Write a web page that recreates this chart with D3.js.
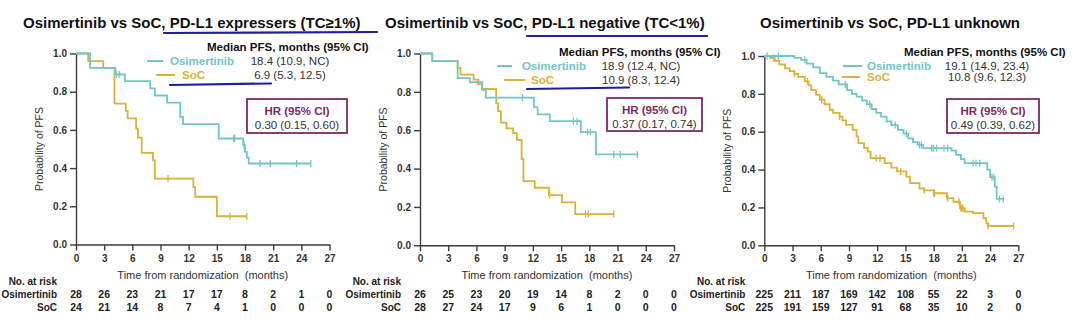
<!DOCTYPE html>
<html>
<head>
<meta charset="utf-8">
<script src="https://cdn.jsdelivr.net/npm/d3@7"></script>
<style>
  body { margin: 0; background: #fff; }
  svg { display: block; }
  text { font-family: "Liberation Sans", Arial, sans-serif; }
</style>
</head>
<body>
<svg id="chart" width="1080" height="333"></svg>
<script>
// chart values
const titles = [
  "Osimertinib vs SoC, PD-L1 expressers (TC\u22651%)",
  "Osimertinib vs SoC, PD-L1 negative (TC<1%)",
  "Osimertinib vs SoC, PD-L1 unknown"
]
const timeTicks = [0, 3, 6, 9, 12, 15, 18, 21, 24, 27]
const probTicks = [0, 0.2, 0.4, 0.6, 0.8, 1.0]

// Kaplan-Meier steps: [month, probability], last entry holds until the end time
const osiSteps1 = [[0,1],[1.5,0.925],[4.2,0.89],[5.2,0.855],[7.9,0.817],[8.4,0.78],[9.7,0.743],[11.1,0.668],[11.4,0.63],[15.2,0.555],[17.8,0.52],[18.0,0.485],[18.2,0.455],[18.4,0.424]]
const socSteps1 = [[0,1],[1.3,0.96],[2.9,0.925],[4.1,0.738],[5.3,0.70],[5.5,0.66],[6.4,0.607],[6.6,0.56],[7.0,0.48],[8.2,0.44],[8.4,0.345],[12.5,0.30],[12.7,0.25],[15.0,0.148]]
const osiSteps2 = [[0,1],[1.3,0.962],[4.0,0.872],[5.3,0.85],[6.6,0.81],[7.0,0.77],[12.1,0.72],[12.5,0.683],[13.8,0.647],[17.1,0.59],[18.7,0.474]]
const socSteps2 = [[0,1],[1.3,0.962],[4.0,0.925],[4.3,0.89],[5.7,0.864],[6.2,0.84],[6.6,0.815],[8.1,0.74],[8.3,0.70],[8.6,0.64],[9.2,0.61],[9.9,0.585],[10.3,0.55],[10.8,0.45],[11.0,0.335],[12.2,0.30],[13.7,0.262],[15.1,0.224],[16.5,0.163]]
const osiSteps3 = [[0,1],[3.2,0.99],[3.9,0.98],[4.5,0.96],[5.2,0.94],[5.9,0.91],[6.6,0.89],[7.3,0.87],[7.9,0.85],[8.8,0.82],[9.3,0.80],[9.8,0.785],[10.4,0.765],[10.9,0.745],[11.4,0.72],[11.9,0.70],[12.4,0.68],[13.0,0.655],[13.5,0.635],[14.2,0.61],[14.8,0.59],[15.3,0.565],[15.8,0.545],[16.3,0.53],[16.9,0.513],[19.9,0.50],[20.4,0.478],[20.9,0.455],[21.3,0.434],[23.7,0.40],[24.0,0.36],[24.5,0.31],[24.7,0.245]]
const socSteps3 = [[0,1],[0.6,0.99],[1.1,0.975],[1.6,0.955],[2.2,0.935],[2.7,0.92],[3.2,0.905],[3.6,0.89],[4.3,0.866],[4.7,0.845],[5.0,0.82],[5.5,0.795],[5.9,0.77],[6.4,0.745],[6.95,0.716],[7.3,0.70],[8.0,0.68],[8.3,0.66],[8.7,0.636],[9.4,0.61],[9.8,0.575],[10.0,0.54],[10.6,0.515],[11.0,0.495],[11.3,0.46],[12.8,0.434],[13.5,0.41],[14.1,0.39],[15.1,0.363],[15.5,0.328],[16.5,0.30],[17.0,0.29],[18.0,0.275],[19.4,0.249],[20.1,0.23],[20.8,0.196],[21.3,0.178],[22.2,0.17],[23.3,0.143],[23.6,0.116],[23.8,0.102]]

const osiEnd = [25.0, 23.1, 25.4]
const socEnd = [18.2, 20.6, 26.5]

// censored times (months)
const osiCensor1 = [4.3, 4.6, 16.8, 16.9, 17.9, 19.6, 20.7, 23.5, 25.0]
const socCensor1 = [9.8, 16.4, 18.2]
const osiCensor2 = [10.9, 16.3, 16.7, 17.8, 18.1, 20.6, 21.3, 23.1]
const socCensor2 = [13.8, 17.6, 17.9, 20.6]
const osiCensor3 = [0.3, 1.5, 4.3, 8.6, 11.2, 13.9, 15.1, 16.5, 16.7, 17.8, 18.0, 18.3, 19.1, 19.5, 22.2, 22.5, 22.9, 24.2, 24.4, 25.0, 25.4]
const socCensor3 = [1.0, 3.2, 4.6, 6.1, 8.0, 11.9, 12.3, 14.5, 17.0, 18.0, 18.1, 19.5, 20.7, 20.9, 21.0, 21.1, 23.8, 26.5]

const riskOsi = [
  [28, 26, 23, 21, 17, 17, 8, 2, 1, 0],
  [26, 25, 23, 20, 19, 14, 8, 2, 0, 0],
  [225, 211, 187, 169, 142, 108, 55, 22, 3, 0]
]
const riskSoc = [
  [24, 21, 14, 8, 7, 4, 1, 0, 0, 0],
  [28, 27, 24, 17, 9, 6, 1, 0, 0, 0],
  [225, 191, 159, 127, 91, 68, 35, 10, 2, 0]
]
const medianOsi = ["18.4 (10.9, NC)", "18.9 (12.4, NC)", "19.1 (14.9, 23.4)"]
const medianSoc = ["6.9 (5.3, 12.5)", "10.9 (8.3, 12.4)", "10.8 (9.6, 12.3)"]
const hrText = ["0.30 (0.15, 0.60)", "0.37 (0.17, 0.74)", "0.49 (0.39, 0.62)"]

const teal = "#72c6c6"
const gold = "#d8b23a"
const axisColor = "#3c3c3c"
const purple = "#7d2a63"
const blue = "#1e1e9e"

// where each panel sits in the picture
const panels = [
  {x0: 76, x1: 329.5, top: 53.5, bottom: 244.5, titleX: 23,
   headX: 207, headY: 47, row1: 61, row2: 75, osiLine: [147, 163], osiText: 170, socLine: [156, 175], socText: 182, valX: 290,
   hr: [247, 99, 100, 34]},
  {x0: 420, x1: 674, top: 53.5, bottom: 245.3, titleX: 385,
   headX: 559, headY: 52, row1: 66, row2: 80, osiLine: [497, 512], osiText: 522, socLine: [504, 525], socText: 531, valX: 641,
   hr: [607, 98, 95, 33]},
  {x0: 764.3, x1: 1018.3, top: 56, bottom: 245.3, titleX: 760,
   headX: 904, headY: 52, row1: 66, row2: 77, osiLine: [843, 862], osiText: 867, socLine: [842, 860], socText: 867, valX: 987,
   hr: [947, 99, 92, 34]}
]

const osiSteps = [osiSteps1, osiSteps2, osiSteps3]
const socSteps = [socSteps1, socSteps2, socSteps3]
const osiCensor = [osiCensor1, osiCensor2, osiCensor3]
const socCensor = [socCensor1, socCensor2, socCensor3]

const svg = d3.select("#chart")
svg.append("rect").attr("width", 1080).attr("height", 333).attr("fill", "#fff")

function survivalAt(steps, t) {
  let s = 1
  steps.forEach(d => { if (d[0] <= t) s = d[1] })
  return s
}

panels.forEach((p, i) => {
  const g = svg.append("g")
  const x = d3.scaleLinear().domain([0, 27]).range([p.x0, p.x1])
  const y = d3.scaleLinear().domain([0, 1]).range([p.bottom, p.top])

  // title
  g.append("text")
    .attr("x", p.titleX).attr("y", 28)
    .attr("font-size", 15).attr("font-weight", "bold").attr("fill", "#111")
    .text(titles[i])

  // axes
  const yAxis = g.append("g")
    .attr("transform", `translate(${p.x0},0)`)
    .call(d3.axisLeft(y).tickValues(probTicks).tickFormat(d3.format(".1f")).tickSize(6).tickSizeOuter(0).tickPadding(3))
  const xAxis = g.append("g")
    .attr("transform", `translate(0,${p.bottom})`)
    .call(d3.axisBottom(x).tickValues(timeTicks).tickSize(6).tickSizeOuter(0).tickPadding(4))
  ;[yAxis, xAxis].forEach(a => {
    a.selectAll("path, line").attr("stroke", axisColor).attr("stroke-width", 1.4)
    a.selectAll("text").attr("font-size", 10).attr("font-weight", "bold").attr("fill", "#333")
      .attr("font-family", "Liberation Sans, Arial, sans-serif")
  })

  g.append("text")
    .attr("transform", `translate(${p.x0 - 37},${(p.top + p.bottom) / 2}) rotate(-90)`)
    .attr("text-anchor", "middle").attr("dominant-baseline", "central")
    .attr("font-size", 10.5).attr("fill", "#333")
    .text("Probability of PFS")

  g.append("text")
    .attr("x", (p.x0 + p.x1) / 2).attr("y", 275)
    .attr("text-anchor", "middle").attr("dominant-baseline", "central")
    .attr("font-size", 11).attr("fill", "#333")
    .attr("xml:space", "preserve")
    .text("Time from randomization  (months)")

  // curves
  const line = d3.line().x(d => x(d[0])).y(d => y(d[1])).curve(d3.curveStepAfter)
  const series = [
    {steps: socSteps[i], end: socEnd[i], censor: socCensor[i], color: gold},
    {steps: osiSteps[i], end: osiEnd[i], censor: osiCensor[i], color: teal}
  ]
  series.forEach(s => {
    const last = s.steps[s.steps.length - 1][1]
    g.append("path")
      .datum(s.steps.concat([[s.end, last]]))
      .attr("d", line)
      .attr("fill", "none").attr("stroke", s.color).attr("stroke-width", 1.8)
    g.selectAll(null).data(s.censor).enter().append("line")
      .attr("x1", d => x(d)).attr("x2", d => x(d))
      .attr("y1", d => y(survivalAt(s.steps, d)) - 3.5)
      .attr("y2", d => y(survivalAt(s.steps, d)) + 3.5)
      .attr("stroke", s.color).attr("stroke-width", 1.3)
  })

  // legend
  g.append("text")
    .attr("x", p.headX).attr("y", p.headY).attr("dominant-baseline", "central")
    .attr("font-size", 11.5).attr("font-weight", "bold").attr("fill", "#111")
    .text("Median PFS, months (95% CI)")
  g.append("line")
    .attr("x1", p.osiLine[0]).attr("x2", p.osiLine[1]).attr("y1", p.row1).attr("y2", p.row1)
    .attr("stroke", teal).attr("stroke-width", 2)
  g.append("line")
    .attr("x1", p.socLine[0]).attr("x2", p.socLine[1]).attr("y1", p.row2).attr("y2", p.row2)
    .attr("stroke", gold).attr("stroke-width", 2)
  g.append("text")
    .attr("x", p.osiText).attr("y", p.row1).attr("dominant-baseline", "central")
    .attr("font-size", 11.5).attr("font-weight", "bold").attr("fill", teal)
    .text("Osimertinib")
  g.append("text")
    .attr("x", p.socText).attr("y", p.row2).attr("dominant-baseline", "central")
    .attr("font-size", 11.5).attr("font-weight", "bold").attr("fill", gold)
    .text("SoC")
  g.append("text")
    .attr("x", p.valX).attr("y", p.row1).attr("text-anchor", "middle").attr("dominant-baseline", "central")
    .attr("font-size", 11.5).attr("fill", "#333")
    .text(medianOsi[i])
  g.append("text")
    .attr("x", p.valX).attr("y", p.row2).attr("text-anchor", "middle").attr("dominant-baseline", "central")
    .attr("font-size", 11.5).attr("fill", "#333")
    .text(medianSoc[i])

  // HR box
  const [bx, by, bw, bh] = p.hr
  g.append("rect")
    .attr("x", bx).attr("y", by).attr("width", bw).attr("height", bh)
    .attr("fill", "#fff").attr("stroke", purple).attr("stroke-width", 1.8)
  g.append("text")
    .attr("x", bx + bw / 2).attr("y", by + 12).attr("text-anchor", "middle").attr("dominant-baseline", "central")
    .attr("font-size", 11.5).attr("font-weight", "bold").attr("fill", purple)
    .text("HR (95% CI)")
  g.append("text")
    .attr("x", bx + bw / 2).attr("y", by + 26).attr("text-anchor", "middle").attr("dominant-baseline", "central")
    .attr("font-size", 11.5).attr("fill", "#333")
    .text(hrText[i])

  // number at risk
  const labelX = p.x0 - 19
  const rows = [
    {label: "No. at risk", y: 281, vals: null},
    {label: "Osimertinib", y: 294, vals: riskOsi[i]},
    {label: "SoC", y: 307, vals: riskSoc[i]}
  ]
  rows.forEach(r => {
    g.append("text")
      .attr("x", labelX).attr("y", r.y).attr("text-anchor", "end").attr("dominant-baseline", "central")
      .attr("font-size", 10).attr("font-weight", "bold").attr("fill", "#222")
      .text(r.label)
    if (r.vals) {
      g.selectAll(null).data(r.vals).enter().append("text")
        .attr("x", (d, j) => x(timeTicks[j])).attr("y", r.y)
        .attr("text-anchor", "middle").attr("dominant-baseline", "central")
        .attr("font-size", 10.5).attr("font-weight", "bold").attr("fill", "#222")
        .text(d => d)
    }
  })
})

// hand-drawn blue underlines in the source slide
const underlines = [
  [164, 33, 377, 32],
  [527, 36, 707, 36],
  [170, 85, 271, 83.5],
  [527, 89, 629, 87.5]
]
svg.selectAll(null).data(underlines).enter().append("line")
  .attr("x1", d => d[0]).attr("y1", d => d[1]).attr("x2", d => d[2]).attr("y2", d => d[3])
  .attr("stroke", blue).attr("stroke-width", 2.2).attr("stroke-linecap", "round")
</script>
</body>
</html>
